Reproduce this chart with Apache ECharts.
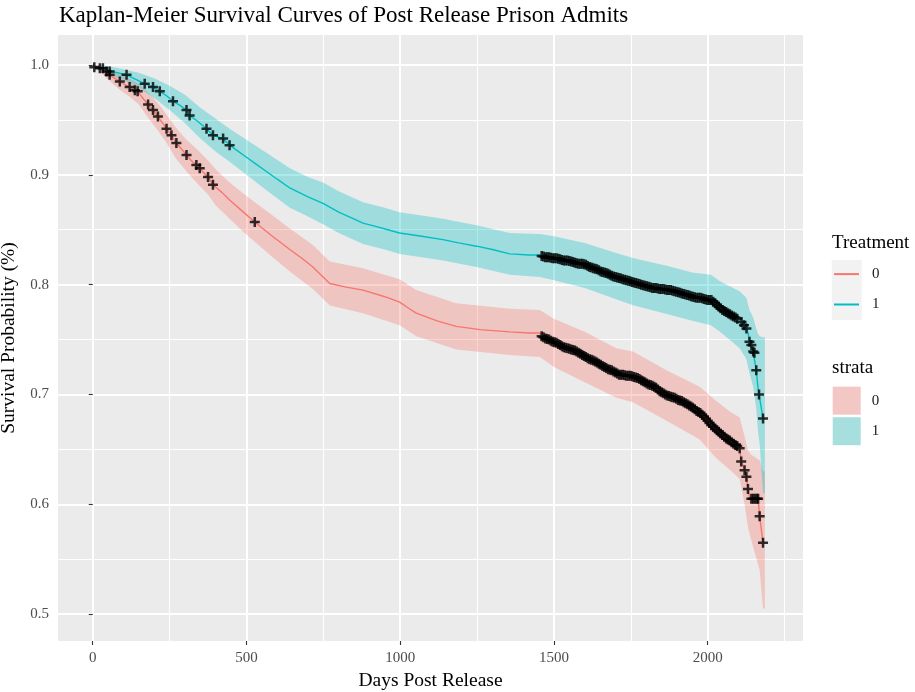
<!DOCTYPE html>
<html>
<head>
<meta charset="utf-8">
<script src="https://cdn.jsdelivr.net/npm/echarts@6/dist/echarts.min.js"></script>
<style>html,body{margin:0;padding:0;background:#fff}#c{width:915px;height:692px}</style>
</head>
<body>
<div id="c"></div>
<script>
// ---------- DATA ----------
const xTicks = [0, 500, 1000, 1500, 2000];
const xMinor = [250, 750, 1250, 1750, 2250];
const yTicks = [0.5, 0.6, 0.7, 0.8, 0.9, 1.0];
const yMinor = [0.55, 0.65, 0.75, 0.85, 0.95];

// dense censoring period (shared day grid)
const denseDays = [1460,1472,1484,1496,1508,1520,1532,1544,1556,1568,
                   1580,1592,1604,1616,1628,1640,1652,1664,1676,1688,
                   1700,1712,1724,1736,1748,1760,1772,1784,1796,1808,
                   1820,1832,1844,1856,1868,1880,1892,1904,1916,1928,
                   1940,1952,1964,1976,1988,2000,2012,2024,2036,2048,
                   2060,2072,2084,2096];
// further censoring times in between
const denseDays2 = [1466,1478,1490,1502,1514,1526,1538,1550,1562,1574,
                    1586,1598,1610,1622,1634,1646,1658,1670,1682,1694,
                    1706,1718,1730,1742,1754,1766,1778,1790,1802,1814,
                    1826,1838,1850,1862,1874,1886,1898,1910,1922,1934,
                    1946,1958,1970,1982,1994,2006,2018,2030,2042,2054,
                    2066,2078,2090];

// Treatment 1 (teal) survival curve
const t1Days = [0,5,33,55,80,110,140,169,196,218,240,261,285,305,315,340,370,391,424,445,470,500,530,565,600,641,700,749,800,840,879,920,960,998,1070,1139,1190,1248,1300,1356,1420,1454]
  .concat(denseDays)
  .concat([2110,2118,2126,2132,2136,2142,2148,2152,2158,2164,2167,2180,2186]);
const t1Surv = [1.000,.998,.997,.994,.993,.991,.987,.983,.980,.976,.972,.967,.963,.959,.954,.949,.942,.936,.933,.927,.922,.916,.910,.903,.896,.888,.880,.874,.866,.861,.856,.853,.850,.847,.844,.841,.838,.835,.832,.828,.827,.827]
  .concat([.826,.825,.825,.824,.824,.823,.822,.822,.821,.820,
           .819,.819,.818,.816,.815,.814,.812,.811,.810,.808,
           .807,.806,.805,.804,.803,.802,.801,.800,.799,.798,
           .797,.797,.796,.796,.795,.795,.794,.793,.792,.791,
           .790,.789,.788,.788,.787,.786,.786,.783,.780,.777,
           .775,.773,.771,.769])
  .concat([.766,.763,.760,.755,.748,.745,.739,.738,.722,.705,.700,.678,.678]);
const t1Censor = [5,33,55,110,169,196,218,261,305,315,370,391,424,445]
  .concat(denseDays)
  .concat([2110,2118,2126,2136,2142,2148,2152,2158,2167,2180]);
const t1Censor2Surv = [.8255,.825,.8245,.824,.8235,.8225,.822,.8215,.8205,.8195,
                       .819,.8185,.817,.8155,.8145,.813,.8115,.8105,.809,.8075,
                       .8065,.8055,.8045,.8035,.8025,.8015,.8005,.7995,.7985,.7975,
                       .797,.7965,.796,.7955,.795,.7945,.7935,.7925,.7915,.7905,
                       .7895,.7885,.788,.7875,.7865,.786,.7845,.7815,.7785,.776,
                       .774,.772,.770];
const t1BandDays = [0,50,100,150,200,250,300,350,400,445,500,565,641,700,749,800,879,950,998,1070,1139,1248,1356,1454,1500,1600,1700,1760,1870,1950,2010,2040,2083,2104,2126,2136,2148,2158,2164,2169,2180,2186];
const t1Lo = [1.000,.991,.986,.979,.970,.959,.947,.933,.921,.912,.900,.886,.870,.862,.855,.847,.837,.832,.828,.825,.822,.816,.809,.807,.804,.797,.787,.781,.773,.767,.763,.757,.747,.742,.732,.719,.707,.687,.665,.655,.610,.610];
const t1Hi = [1.000,.999,.996,.993,.988,.981,.973,.961,.951,.942,.932,.920,.906,.898,.893,.885,.875,.870,.866,.863,.860,.854,.847,.846,.844,.838,.829,.824,.817,.811,.809,.803,.797,.794,.788,.777,.770,.760,.755,.753,.752,.752];

// Treatment 0 (red) survival curve
const t0Days = [0,10,23,45,55,70,88,105,120,137,146,165,180,196,212,225,240,256,272,290,305,320,337,348,360,375,391,420,445,490,527,580,641,680,716,745,771,820,879,950,998,1030,1052,1120,1182,1260,1356,1420,1454]
  .concat(denseDays)
  .concat([2104,2109,2115,2120,2126,2131,2136,2142,2148,2154,2160,2164,2169,2180,2186]);
const t0Surv = [1.000,.999,.997,.994,.991,.988,.985,.982,.980,.977,.976,.969,.964,.959,.953,.948,.942,.936,.929,.923,.918,.913,.909,.906,.902,.898,.891,.884,.877,.866,.857,.845,.832,.824,.816,.808,.801,.798,.795,.789,.784,.778,.774,.767,.762,.759,.757,.756,.756]
  .concat([.753,.751,.750,.748,.747,.745,.743,.742,.741,.740,
           .738,.736,.734,.732,.731,.729,.727,.725,.723,.722,
           .720,.718,.718,.717,.717,.716,.715,.713,.711,.709,
           .708,.706,.703,.701,.699,.698,.697,.695,.694,.692,
           .690,.688,.685,.683,.680,.676,.672,.669,.666,.663,
           .660,.658,.655,.653])
  .concat([.651,.639,.635,.631,.625,.614,.607,.605,.605,.605,.605,.605,.589,.565,.565]);
const t0Censor = [23,45,55,88,120,137,146,180,196,212,240,256,272,305,337,348,375,391,527]
  .concat(denseDays)
  .concat([2104,2109,2120,2126,2131,2142,2148,2154,2160,2164,2169,2180]);
const t0Censor2Surv = [.752,.7505,.749,.7475,.746,.744,.7425,.7415,.7405,.739,
                       .737,.735,.733,.7315,.730,.728,.726,.724,.7225,.721,
                       .719,.718,.7175,.717,.7165,.7155,.714,.712,.710,.7085,
                       .707,.7045,.702,.700,.6985,.6975,.696,.6945,.693,.691,
                       .689,.6865,.684,.6815,.678,.674,.6705,.6675,.6645,.6615,
                       .659,.6565,.654];
const t0BandDays = [0,30,60,90,120,150,180,210,240,270,305,340,375,400,445,490,527,580,641,716,771,879,998,1052,1182,1356,1454,1500,1600,1703,1757,1866,1974,2028,2070,2104,2120,2131,2142,2169,2180,2186];
const t0Lo = [1.000,.992,.984,.977,.971,.964,.952,.941,.929,.915,.903,.892,.882,.872,.860,.848,.839,.826,.812,.796,.781,.774,.763,.753,.741,.736,.734,.725,.711,.697,.693,.676,.659,.642,.632,.623,.600,.579,.567,.540,.505,.505];
const t0Hi = [1.000,1.000,.996,.992,.988,.983,.975,.966,.955,.943,.932,.923,.913,.905,.893,.883,.875,.864,.851,.836,.821,.815,.805,.795,.783,.778,.777,.769,.757,.742,.739,.722,.707,.694,.685,.679,.662,.649,.645,.640,.630,.630];

// ---------- CHART ----------
const FONT = "'Liberation Serif', 'Times New Roman', serif";
const RED = '#F8766D', TEAL = '#00BFC4';

function pairs(days, vals) { return days.map((d, i) => [d, vals[i]]); }
function censorPts(cDays, days, vals) {
  return cDays.map(d => [d, vals[days.indexOf(d)]]);
}
function ribbon(name, days, lo, hi, fill) {
  return {
    name: name, type: 'custom', xAxisIndex: 0, yAxisIndex: 0, z: 1,
    silent: true,
    itemStyle: { color: fill },
    data: [[days[0], hi[0]]],
    renderItem: function (params, api) {
      const pts = [];
      for (let i = 0; i < days.length; i++) pts.push(api.coord([days[i], hi[i]]));
      for (let i = days.length - 1; i >= 0; i--) pts.push(api.coord([days[i], lo[i]]));
      return { type: 'polygon', shape: { points: pts }, style: { fill: fill } };
    }
  };
}

const PLUS = 'path://M3.75,0H6.25V3.75H10V6.25H6.25V10H3.75V6.25H0V3.75H3.75Z';
const LINEKEY = 'path://M0,0H50V4H0Z';
const XMIN = -113, XMAX = 2310, YMIN = 0.4755, YMAX = 1.0273;

const chart = echarts.init(document.getElementById('c'), null, { renderer: 'canvas' });
chart.setOption({
  animation: false,
  backgroundColor: '#FFFFFF',
  title: [
    { text: 'Kaplan-Meier Survival Curves of Post Release Prison Admits', left: 59, top: 4, padding: 0,
      textStyle: { fontFamily: FONT, fontSize: 23, fontWeight: 'normal', color: '#000' } },
    { text: 'Treatment', left: 832, top: 234, padding: 0,
      textStyle: { fontFamily: FONT, fontSize: 19, fontWeight: 'normal', color: '#000' } },
    { text: 'strata', left: 832, top: 359, padding: 0,
      textStyle: { fontFamily: FONT, fontSize: 19, fontWeight: 'normal', color: '#000' } }
  ],
  graphic: [
    { type: 'rect', left: 831.7, top: 260, z: 0, shape: { width: 30, height: 60 }, style: { fill: '#F2F2F2' } }
  ],
  legend: [
    { left: 834, top: 266.6, padding: 0, orient: 'vertical', itemWidth: 25, itemHeight: 30, itemGap: 15.4,
      selectedMode: false, symbolKeepAspect: true,
      data: [ { name: 'T0', icon: LINEKEY, itemStyle: { color: RED } },
              { name: 'T1', icon: LINEKEY, itemStyle: { color: TEAL } } ],
      formatter: n => n.slice(1),
      textStyle: { fontFamily: FONT, fontSize: 15, color: '#1a1a1a', padding: [0, 0, 0, 8] } },
    { left: 832.7, top: 386.7, padding: 0, orient: 'vertical', itemWidth: 28, itemHeight: 28, itemGap: 2.5,
      selectedMode: false,
      data: [ { name: 'S0', icon: 'rect', itemStyle: { color: '#F2C7C4' } },
              { name: 'S1', icon: 'rect', itemStyle: { color: '#A7DFDE' } } ],
      formatter: n => n.slice(1),
      textStyle: { fontFamily: FONT, fontSize: 15, color: '#1a1a1a', padding: [0, 0, 0, 6] } }
  ],
  grid: { left: 58, top: 35, width: 745, height: 606, show: true, backgroundColor: '#EBEBEB', borderWidth: 0,
          containLabel: false, outerBoundsMode: 'none' },
  xAxis: [
    { type: 'value', min: XMIN, max: XMAX, position: 'bottom',
      name: 'Days Post Release', nameLocation: 'middle', nameGap: 29,
      nameTextStyle: { fontFamily: FONT, fontSize: 19.5, color: '#000' },
      axisLine: { show: false },
      axisTick: { show: true, length: 4, lineStyle: { color: '#333', width: 1.1 }, customValues: xTicks },
      axisLabel: { customValues: xTicks, margin: 10, fontFamily: FONT, fontSize: 15, color: '#4D4D4D',
                   formatter: v => String(v) },
      splitLine: { show: true, lineStyle: { color: '#FFFFFF', width: 2 } } },
    { type: 'value', min: XMIN, max: XMAX, position: 'bottom',
      axisLine: { show: false },
      axisTick: { show: false, customValues: xMinor },
      axisLabel: { show: false, customValues: xMinor },
      splitLine: { show: true, lineStyle: { color: '#FFFFFF', width: 1.1 } } }
  ],
  yAxis: [
    { type: 'value', min: YMIN, max: YMAX, position: 'left',
      name: 'Survival Probability (%)', nameLocation: 'middle', nameGap: 31,
      nameTextStyle: { fontFamily: FONT, fontSize: 19.5, color: '#000' },
      axisLine: { show: false },
      axisTick: { show: true, length: 4, lineStyle: { color: '#333', width: 1.1 }, customValues: yTicks },
      axisLabel: { customValues: yTicks, margin: 9, fontFamily: FONT, fontSize: 15, color: '#4D4D4D',
                   formatter: v => v.toFixed(1) },
      splitLine: { show: true, lineStyle: { color: '#FFFFFF', width: 2 } } },
    { type: 'value', min: YMIN, max: YMAX, position: 'left',
      axisLine: { show: false },
      axisTick: { show: false, customValues: yMinor },
      axisLabel: { show: false, customValues: yMinor },
      splitLine: { show: true, lineStyle: { color: '#FFFFFF', width: 1.1 } } }
  ],
  series: [
    ribbon('S0', t0BandDays, t0Lo, t0Hi, 'rgba(248,118,109,0.32)'),
    ribbon('S1', t1BandDays, t1Lo, t1Hi, 'rgba(0,191,196,0.32)'),
    { name: 'T0', type: 'line', xAxisIndex: 0, yAxisIndex: 0, z: 3, symbol: 'none', showSymbol: false,
      lineStyle: { color: RED, width: 1.4 }, itemStyle: { color: RED },
      data: pairs(t0Days, t0Surv) },
    { name: 'T1', type: 'line', xAxisIndex: 0, yAxisIndex: 0, z: 3, symbol: 'none', showSymbol: false,
      lineStyle: { color: TEAL, width: 1.4 }, itemStyle: { color: TEAL },
      data: pairs(t1Days, t1Surv) },
    { name: 'censor0', type: 'scatter', xAxisIndex: 0, yAxisIndex: 0, z: 5, symbol: PLUS, symbolSize: 10,
      itemStyle: { color: '#000' }, silent: true,
      data: censorPts(t0Censor, t0Days, t0Surv).concat(pairs(denseDays2, t0Censor2Surv)) },
    { name: 'censor1', type: 'scatter', xAxisIndex: 0, yAxisIndex: 0, z: 5, symbol: PLUS, symbolSize: 10,
      itemStyle: { color: '#000' }, silent: true,
      data: censorPts(t1Censor, t1Days, t1Surv).concat(pairs(denseDays2, t1Censor2Surv)) }
  ]
});
</script>
</body>
</html>
